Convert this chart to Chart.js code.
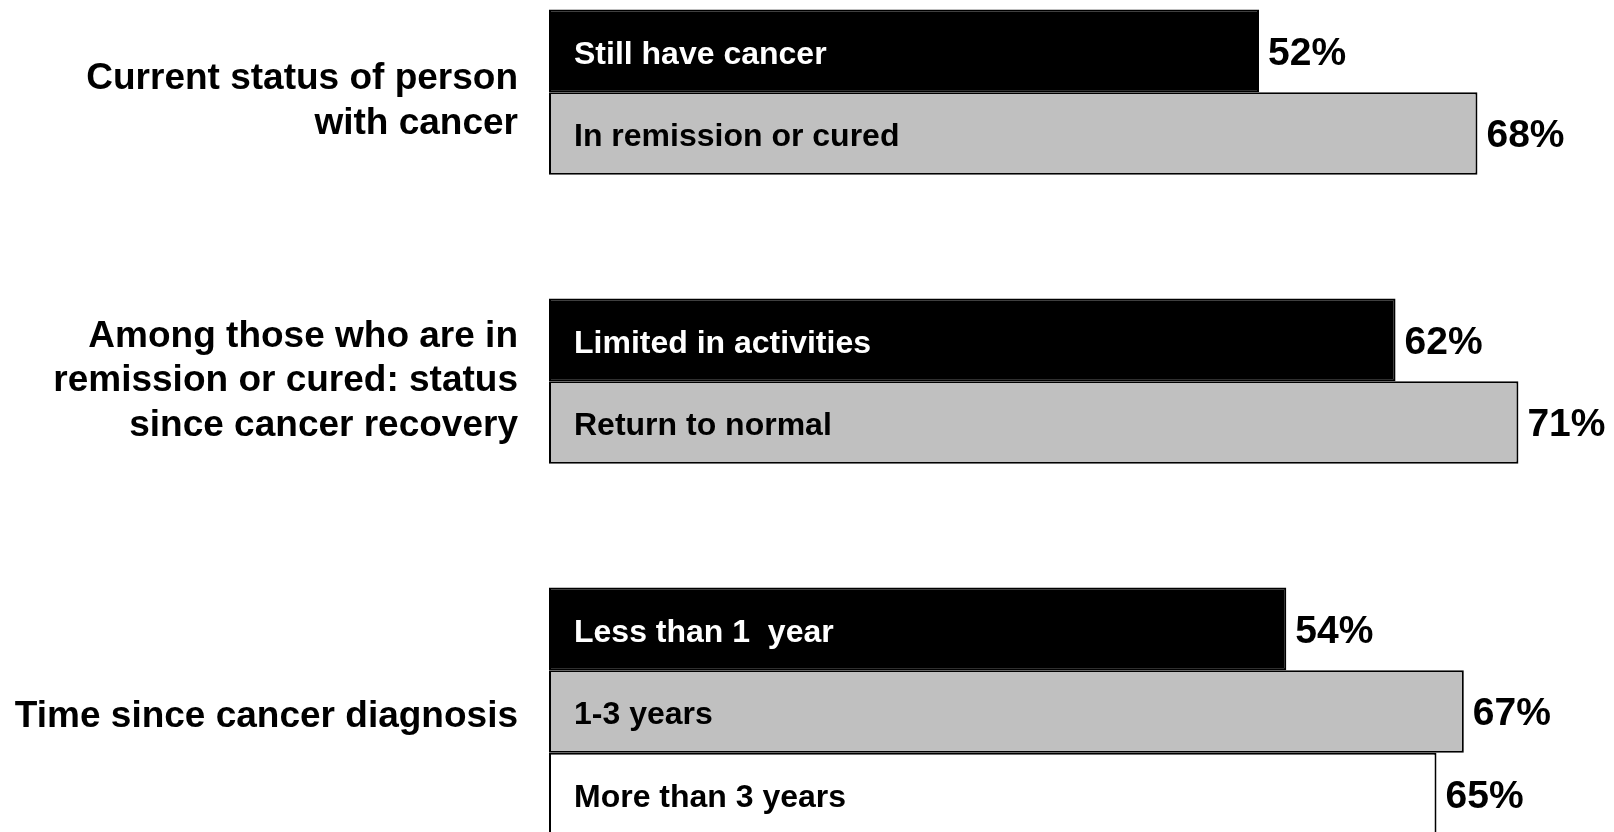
<!DOCTYPE html>
<html>
<head>
<meta charset="utf-8">
<title>Cancer status chart</title>
<script src="https://cdn.jsdelivr.net/npm/chart.js@4/dist/chart.umd.min.js"></script>
<style>
  html, body { margin: 0; padding: 0; background: #fff; overflow: hidden; }
  #wrap { position: absolute; left: 0; top: -11px; width: 1614px; height: 867px; }
</style>
</head>
<body>
<div id="wrap"><canvas id="myChart" width="1614" height="867"></canvas></div>
<script>
// group titles (one per category, multi-line)
const groupTitles = [
  ['Current status of person', 'with cancer'],
  ['Among those who are in', 'remission or cured: status', 'since cancer recovery'],
  ['Time since cancer diagnosis']
]

// bar names inside each bar, per series
const firstNames = ['Still have cancer', 'Limited in activities', 'Less than 1  year']
const secondNames = ['In remission or cured', 'Return to normal', '1-3 years']
const thirdNames = [null, null, 'More than 3 years']

// percentages
const firstValues = [52, 62, 54]
const secondValues = [68, 71, 67]
const thirdValues = [null, null, 65]

const FONT = '"Liberation Sans", Arial, Helvetica, sans-serif'

const barLabels = {
  id: 'barLabels',
  afterDatasetsDraw(chart){
    const ctx = chart.ctx
    const names = [firstNames, secondNames, thirdNames]
    const textColors = ['#fff', '#000', '#000']
    ctx.save()
    ctx.textBaseline = 'middle'
    chart.data.datasets.forEach((ds, di) => {
      const meta = chart.getDatasetMeta(di)
      meta.data.forEach((bar, i) => {
        const v = ds.data[i]
        if (v === null || v === undefined) return
        // name inside bar
        ctx.font = 'bold 32px ' + FONT
        ctx.textAlign = 'left'
        ctx.fillStyle = textColors[di]
        ctx.fillText(names[di][i], bar.base + 25, bar.y + 4)
        // value after bar
        ctx.font = 'bold 39px ' + FONT
        ctx.fillStyle = '#000'
        ctx.fillText(v + '%', bar.x + 9, bar.y + 3)
      })
    })

    // group titles, centred on the bars of each group
    ctx.font = 'bold 37px ' + FONT
    ctx.textAlign = 'right'
    ctx.fillStyle = '#000'
    const lineH = 44.5
    const nudge = [9, 0, 5]
    groupTitles.forEach((lines, gi) => {
      const ys = []
      chart.data.datasets.forEach((ds, di) => {
        if (ds.data[gi] !== null) ys.push(chart.getDatasetMeta(di).data[gi].y)
      })
      const mid = ys.reduce((a, b) => a + b, 0) / ys.length + nudge[gi]
      const start = mid - (lines.length - 1) * lineH / 2
      lines.forEach((t, li) => ctx.fillText(t, chart.chartArea.left - 31, start + li * lineH))
    })
    ctx.restore()
  }
}

const ctx = document.getElementById('myChart').getContext('2d')

const myChart = new Chart(ctx, {
  type: 'bar',
  data: {
    labels: groupTitles.map(t => t.join(' ')),
    datasets: [
      { data: firstValues, backgroundColor: '#000000', borderColor: '#000000' },
      { data: secondValues, backgroundColor: '#c0c0c0', borderColor: '#000000' },
      { data: thirdValues, backgroundColor: '#ffffff', borderColor: '#000000' }
    ]
  },
  options: {
    indexAxis: 'y',
    responsive: false,
    animation: false,
    layout: { padding: { left: 549, right: 0, top: 0, bottom: 0 } },
    datasets: {
      bar: {
        barPercentage: 1,
        categoryPercentage: 0.858,
        borderWidth: 2,
        borderSkipped: false
      }
    },
    scales: {
      x: { display: false, min: 0, max: 78 },
      y: { display: false }
    },
    plugins: {
      legend: { display: false },
      tooltip: { enabled: false }
    }
  },
  plugins: [barLabels]
})
</script>
</body>
</html>
